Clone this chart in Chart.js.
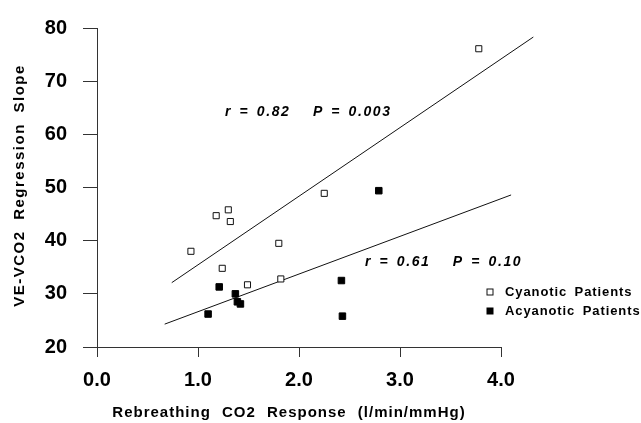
<!DOCTYPE html>
<html>
<head>
<meta charset="utf-8">
<script src="https://cdn.jsdelivr.net/npm/chart.js@4/dist/chart.umd.min.js"></script>
<style>
html,body{margin:0;padding:0;background:#fff;}
#wrap{width:641px;height:423px;position:relative;}
</style>
</head>
<body>
<div id="wrap"><canvas id="c" width="641" height="423"></canvas></div>
<script>
// ---- data ----
const cyanoticX = [0.93, 1.18, 1.24, 1.30, 1.32, 1.49, 1.80, 1.82, 2.25, 3.78];
const cyanoticY = [38.0, 44.7, 34.8, 45.8, 43.6, 31.7, 39.5, 32.8, 48.9, 76.1];
const acyanoticX = [1.10, 1.21, 1.37, 1.39, 1.42, 2.42, 2.43, 2.79];
const acyanoticY = [26.2, 31.3, 30.0, 28.5, 28.1, 32.5, 25.8, 49.4];
const cyanoticFitX = [0.74, 4.32];
const cyanoticFitY = [32.1, 78.3];
const acyanoticFitX = [0.67, 4.10];
const acyanoticFitY = [24.3, 48.6];
const xTickValues = [0, 1, 2, 3, 4];
const xTickLabels = ['0.0', '1.0', '2.0', '3.0', '4.0'];
const yTickValues = [20, 30, 40, 50, 60, 70, 80];
const yTickLabels = ['20', '30', '40', '50', '60', '70', '80'];
const seriesLabels = ['Cyanotic Patients', 'Acyanotic Patients'];
const annotationTexts = ['r = 0.82   P = 0.003', 'r = 0.61   P = 0.10'];
const annotationX = [1.267, 2.653];
const annotationY = [64.2, 35.9];
const xTitle = 'Rebreathing CO2 Response (l/min/mmHg)';
const yTitle = 'VE-VCO2 Regression Slope';

const pts = (xs, ys) => xs.map((v, i) => ({x: v, y: ys[i]}));

const decorations = {
  id: 'decorations',
  afterDraw(chart) {
    const {ctx, chartArea, scales} = chart;
    const xs = scales.x, ys = scales.y;
    ctx.save();
    ctx.fillStyle = '#000';
    ctx.textBaseline = 'middle';
    // annotations
    ctx.font = 'italic bold 14px "Liberation Sans", Arial, sans-serif';
    ctx.letterSpacing = '1.6px';
    ctx.wordSpacing = '2px';
    ctx.textAlign = 'left';
    annotationTexts.forEach((t, i) => {
      ctx.fillText(t, xs.getPixelForValue(annotationX[i]), ys.getPixelForValue(annotationY[i]));
    });
    // x title
    ctx.font = 'bold 15px "Liberation Sans", Arial, sans-serif';
    ctx.letterSpacing = '1px';
    ctx.wordSpacing = '6px';
    ctx.textAlign = 'center';
    ctx.fillText(xTitle, chartArea.left + 192, 413);
    // y title
    ctx.save();
    ctx.translate(20, (chartArea.top + chartArea.bottom) / 2 - 2);
    ctx.rotate(-Math.PI / 2);
    ctx.letterSpacing = '1.5px';
    ctx.wordSpacing = '5px';
    ctx.fillText(yTitle, 0, 0);
    ctx.restore();
    // legend
    ctx.font = 'bold 13px "Liberation Sans", Arial, sans-serif';
    ctx.letterSpacing = '0.9px';
    ctx.wordSpacing = '3px';
    ctx.textAlign = 'left';
    const lx = chartArea.right - 11, ly0 = 292, dy = 19;
    [0, 1].forEach(i => {
      const ds = chart.data.datasets[i];
      const cy = ly0 + i * dy;
      ctx.fillStyle = ds.backgroundColor;
      ctx.strokeStyle = ds.borderColor;
      ctx.lineWidth = 1;
      ctx.fillRect(lx - 3, cy - 3, 6, 6);
      ctx.strokeRect(lx - 3, cy - 3, 6, 6);
      ctx.fillStyle = '#000';
      ctx.fillText(seriesLabels[i], lx + 15, cy);
    });
    ctx.restore();
  }
};

const tickFont = {family: '"Liberation Sans", Arial, sans-serif', size: 20, weight: 'bold'};

new Chart(document.getElementById('c'), {
  type: 'scatter',
  data: {
    datasets: [
      {label: seriesLabels[0], data: pts(cyanoticX, cyanoticY), pointStyle: 'rect', pointRadius: 4.3,
       backgroundColor: '#fff', borderColor: '#111', borderWidth: 1},
      {label: seriesLabels[1], data: pts(acyanoticX, acyanoticY), pointStyle: 'rect', pointRadius: 4.6,
       backgroundColor: '#000', borderColor: '#000', borderWidth: 1},
      {label: 'fit1', data: pts(cyanoticFitX, cyanoticFitY), showLine: true, pointRadius: 0,
       borderColor: '#111', borderWidth: 1, clip: false},
      {label: 'fit2', data: pts(acyanoticFitX, acyanoticFitY), showLine: true, pointRadius: 0,
       borderColor: '#111', borderWidth: 1, clip: false}
    ]
  },
  options: {
    responsive: false,
    devicePixelRatio: 1,
    animation: false,
    events: [],
    layout: {padding: {left: 0, right: 140, top: 21, bottom: 0}},
    plugins: {legend: {display: false}, tooltip: {enabled: false}},
    scales: {
      x: {
        type: 'linear', min: 0, max: 4,
        afterBuildTicks: s => { s.ticks = xTickValues.map(v => ({value: v})); },
        afterFit: s => { s.height = 76; },
        grid: {drawOnChartArea: false, drawTicks: true, tickLength: 10, color: '#333'},
        border: {display: true, color: '#333', width: 1},
        ticks: {font: tickFont, color: '#000', padding: 11, maxRotation: 0,
                callback: (v, i) => xTickLabels[i]}
      },
      y: {
        type: 'linear', min: 20, max: 80,
        afterBuildTicks: s => { s.ticks = yTickValues.map(v => ({value: v})); },
        afterFit: s => { s.width = 97; },
        grid: {drawOnChartArea: false, drawTicks: true, tickLength: 14, color: '#333'},
        border: {display: true, color: '#333', width: 1},
        ticks: {font: tickFont, color: '#000', padding: 16,
                callback: (v, i) => yTickLabels[i]}
      }
    }
  },
  plugins: [decorations]
});
</script>
</body>
</html>
